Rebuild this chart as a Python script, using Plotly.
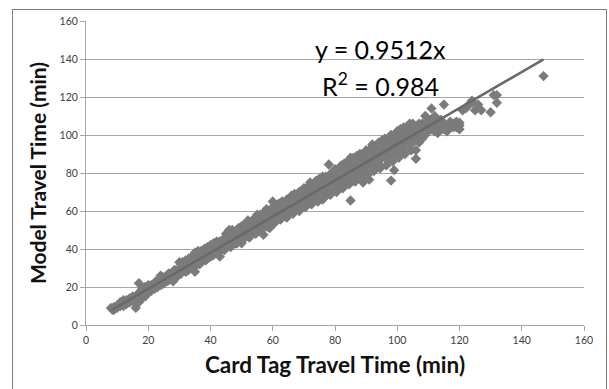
import plotly.graph_objects as go

# Card tag (observed) travel time, minutes
card_tag = [
    8, 8.5, 9, 9, 10, 10, 11, 11, 12, 12, 12, 13, 13, 14, 14, 15, 15,
    16, 16, 16, 16.5, 17, 17, 17, 17, 18, 18, 18, 19, 19, 19, 20, 20, 20,
    21, 21, 21, 22, 22, 23, 23, 23, 24, 24, 24, 25, 25, 25, 26, 26, 27, 27, 27,
    28, 28, 28, 29, 29, 30, 30, 30, 31, 31, 31, 32, 32, 32, 33, 33, 33,
    34, 34, 34, 35, 35, 35, 35, 36, 36, 36, 37, 37, 37, 38, 38, 38, 39, 39, 39,
    40, 40, 40, 40, 41, 41, 41, 42, 42, 42, 43, 43, 43, 44, 44, 44,
    45, 45, 45, 45, 46, 46, 46, 46, 47, 47, 47, 48, 48, 48, 48, 49, 49, 49,
    50, 50, 50, 50, 51, 51, 51, 52, 52, 52, 52, 53, 53, 53, 54, 54, 54,
    55, 55, 55, 55, 56, 56, 56, 57, 57, 57, 57, 58, 58, 58, 58, 59, 59, 59, 59,
    60, 60, 60, 60, 61, 61, 61, 61, 62, 62, 62, 62, 63, 63, 63, 64, 64, 64, 64,
    65, 65, 65, 65, 66, 66, 66, 66, 67, 67, 67, 67, 68, 68, 68, 68, 69, 69, 69, 69,
    70, 70, 70, 70, 71, 71, 71, 71, 72, 72, 72, 72, 73, 73, 73, 73, 74, 74, 74, 74,
    75, 75, 75, 75, 76, 76, 76, 76, 77, 77, 77, 77, 78, 78, 78, 78, 79, 79, 79, 79,
    80, 80, 80, 80, 81, 81, 81, 81, 82, 82, 82, 82, 83, 83, 83, 83, 84, 84, 84, 84,
    85, 85, 85, 85, 86, 86, 86, 86, 87, 87, 87, 87, 88, 88, 88, 88, 89, 89, 89, 89,
    90, 90, 90, 90, 91, 91, 91, 91, 92, 92, 92, 92, 93, 93, 93, 93, 94, 94, 94, 94,
    95, 95, 95, 95, 96, 96, 96, 96, 97, 97, 97, 97, 98, 98, 98, 98, 98, 99, 99, 99, 99,
    100, 100, 100, 100, 101, 101, 101, 101, 102, 102, 102, 102, 103, 103, 103,
    104, 104, 104, 104, 105, 105, 105, 106, 106, 106, 106, 107, 107, 107,
    108, 108, 108, 109, 109, 109, 110, 110, 110, 111, 111, 111, 112, 112, 112,
    113, 113, 113, 114, 114, 115, 115, 115, 116, 116, 117, 117, 118, 118, 119, 119,
    120, 120, 120, 121, 122, 123, 124, 124, 125, 126, 127, 130, 131, 132, 132, 147,
]

# Model travel time, minutes
model = [
    9, 8, 9.5, 8, 10, 9, 12, 10, 13, 10, 11.5, 13, 11, 14, 12, 15, 12.5,
    9, 11, 15, 13, 22, 14, 17, 12, 16, 19, 14, 20, 17, 15, 19, 21, 17,
    21, 18, 20, 22, 19, 23, 20, 22, 24, 21, 26, 25, 22, 23, 26, 23, 27, 24, 25,
    26, 23, 28, 28, 25, 33, 30, 27, 33, 29, 31, 34, 30, 28, 32, 35, 29,
    33, 30, 36, 28, 35, 38, 32, 36, 33, 39, 39, 35, 33, 40, 36, 38, 37, 41, 35,
    38, 42, 40, 36, 43, 39, 37, 40, 44, 42, 41, 36, 44, 45, 42, 40,
    48, 43, 46, 41, 50, 44, 47, 42, 47, 44, 50, 49, 45, 47, 43, 46, 51, 48,
    47, 43, 50, 52, 49, 53, 46, 55, 50, 47, 52, 51, 48, 54, 56, 52, 50,
    58, 53, 49, 56, 55, 51, 58, 59, 54, 47.5, 52, 61, 57, 53, 55, 55, 60, 51, 58,
    62, 57, 53, 65, 63, 59, 55, 57, 60, 64, 56, 58, 62, 58, 65, 65, 60, 58, 62,
    63, 66, 59, 61, 68, 62, 65, 60, 64, 69, 61, 66, 66, 61, 69, 63, 70, 67, 64, 62,
    68, 64, 72, 66, 72, 67, 65, 69, 70, 75, 66, 68, 71, 68, 74, 65, 72, 76, 69, 67,
    70, 74, 77, 66, 73, 66, 78, 70, 78, 72, 75, 69, 84.5, 74, 69, 77, 76, 80, 72, 73,
    78, 72, 82, 75, 82, 75, 78, 71, 80, 84, 76, 73, 77, 74, 81, 85, 82, 86, 78, 75,
    65.5, 79, 84, 88, 83, 88, 80, 76, 85, 78, 89, 82, 86, 82, 90, 79, 90, 75, 84, 87,
    88, 84, 92, 81, 92, 86, 89, 76.5, 90, 95, 86, 83, 89, 83, 93, 86, 91, 96, 87, 85,
    93, 88, 97, 90, 94, 88, 98, 91, 98, 92, 95, 87, 96, 76, 100, 90, 93, 100, 81.5, 95, 91,
    98, 94, 102, 89, 103, 96, 99, 92, 100, 96, 104, 93, 104, 97, 100,
    102, 95, 106, 99, 106, 100, 96, 104, 87.5, 99, 92, 102, 96, 106,
    106, 98, 101, 104, 110, 100, 108, 102, 105, 114, 103, 107, 106, 110, 102,
    104, 101, 108, 108, 103, 116, 103, 106, 105, 102, 107, 104, 104, 106, 107, 104,
    103, 105, 106.5, 113, 114, 116, 117, 118, 113, 116, 113, 112, 121, 117, 121, 131,
]

# Additional trips read from the dense part of the cloud
card_tag_extra = [
    20.5, 20.5, 22.5, 22.5, 24.5, 24.5, 26.5, 26.5, 28.5, 28.5,
    30.5, 30.5, 32.5, 32.5, 34.5, 34.5, 36.5, 36.5, 38.5, 38.5,
    40.5, 40.5, 42.5, 42.5, 44.5, 44.5, 46.5, 46.5, 48.5, 48.5,
    50.5, 50.5, 52.5, 52.5, 54.5, 54.5, 56.5, 56.5, 58.5, 58.5,
    60.5, 60.5, 62.5, 62.5, 64.5, 64.5, 66.5, 66.5, 68.5, 68.5,
    70.5, 70.5, 72.5, 72.5, 74.5, 74.5, 76.5, 76.5, 78.5, 78.5,
    80.5, 80.5, 82.5, 82.5, 84.5, 84.5, 86.5, 86.5, 88.5, 88.5,
    90.5, 90.5, 92.5, 92.5, 94.5, 94.5, 96.5, 96.5, 98.5, 98.5,
    100.5, 100.5, 102.5, 102.5, 104.5, 104.5,
]
model_extra = [
    18, 20.5, 20, 23, 21.5, 25, 23.5, 27, 25, 29,
    27, 32, 28.5, 33.5, 30, 35.5, 32, 37.5, 34, 39.5,
    36.5, 41, 38, 43, 39.5, 45.5, 41, 48, 43, 50,
    45, 52, 46, 53.5, 48, 55.5, 50, 57.5, 51.5, 59.5,
    53.5, 61.5, 55.5, 63.5, 56.5, 66, 58.5, 68, 60, 70,
    62, 71.5, 63.5, 73.5, 65, 75.5, 67, 77.5, 68.5, 79.5,
    70, 81, 72, 83, 74, 85, 75.5, 87, 77.5, 89,
    79, 91, 81, 93, 82.5, 95, 84, 96.5, 86, 98.5,
    88, 100, 90, 102, 92, 103.5,
]

slope = 0.9512
r_squared = 0.984
x_ticks = [0, 20, 40, 60, 80, 100, 120, 140, 160]
y_ticks = [0, 20, 40, 60, 80, 100, 120, 140, 160]

all_x = card_tag + card_tag_extra
all_y = model + model_extra
x_min, x_max = min(all_x), max(all_x)

fig = go.Figure()
fig.add_trace(go.Scatter(
    x=all_x, y=all_y, mode="markers",
    marker=dict(symbol="diamond", size=8, color="#7b7b7b", line=dict(width=0)),
    hoverinfo="skip", showlegend=False,
))
fig.add_trace(go.Scatter(
    x=[x_min, x_max], y=[slope * x_min, slope * x_max], mode="lines",
    line=dict(color="#696969", width=2.5),
    hoverinfo="skip", showlegend=False,
))

axis_common = dict(
    showline=True, linecolor="#a6a6a6", linewidth=1,
    ticks="outside", ticklen=5, tickcolor="#a6a6a6", tickwidth=1,
    tickfont=dict(family="Lato, sans-serif", size=10.5, color="#404040"),
    zeroline=False, automargin=False,
)

fig.update_xaxes(
    range=[0, 160], tickvals=x_ticks, showgrid=False,
    title=dict(text="Card Tag Travel Time (min)", standoff=12,
               font=dict(family="Lato, sans-serif", size=22.5, color="#111111", weight="bold")),
    **axis_common,
)
fig.update_yaxes(
    range=[0, 160], tickvals=y_ticks, showgrid=True, gridcolor="#a6a6a6", gridwidth=1,
    title=dict(text="Model Travel Time (min)", standoff=7,
               font=dict(family="Lato, sans-serif", size=21, color="#111111", weight="bold")),
    **axis_common,
)

# plot area: x 86..584 px, y 21..325 px
L, R, T, B = 86, 584, 21, 325
W, H = R - L, B - T

def px_x(p):
    return (p - L) / W

def px_y(p):
    return (B - p) / H

fig.add_annotation(
    x=px_x(380), y=px_y(49), xref="paper", yref="paper", text=f"y = {slope}x",
    xanchor="center", yanchor="middle",
    showarrow=False, font=dict(family="Lato, sans-serif", size=25, color="#000000"),
)
fig.add_annotation(
    x=px_x(380), y=px_y(84), xref="paper", yref="paper", text=f"R<sup>2</sup> = {r_squared}",
    xanchor="center", yanchor="middle",
    showarrow=False, font=dict(family="Lato, sans-serif", size=25, color="#000000"),
)

fig.update_layout(
    width=609, height=389,
    margin=dict(l=L, r=609 - R, t=T, b=389 - B, autoexpand=False),
    paper_bgcolor="white", plot_bgcolor="white",
    showlegend=False, hovermode=False,
)

# chart-area frame drawn as a page overlay (outside the plotting paper area)
frame_js = (
    "document.body.style.margin='0';"
    "document.body.style.overflow='hidden';"
    "var f=document.createElement('div');"
    "f.style.cssText='position:fixed;left:12px;top:9px;width:595px;height:400px;z-index:9999;"
    "border:1px solid #7f7f7f;pointer-events:none;box-sizing:border-box;background:transparent;';"
    "document.body.appendChild(f);"
)

fig.write_html("out.html", config={"displayModeBar": False}, post_script=frame_js)
